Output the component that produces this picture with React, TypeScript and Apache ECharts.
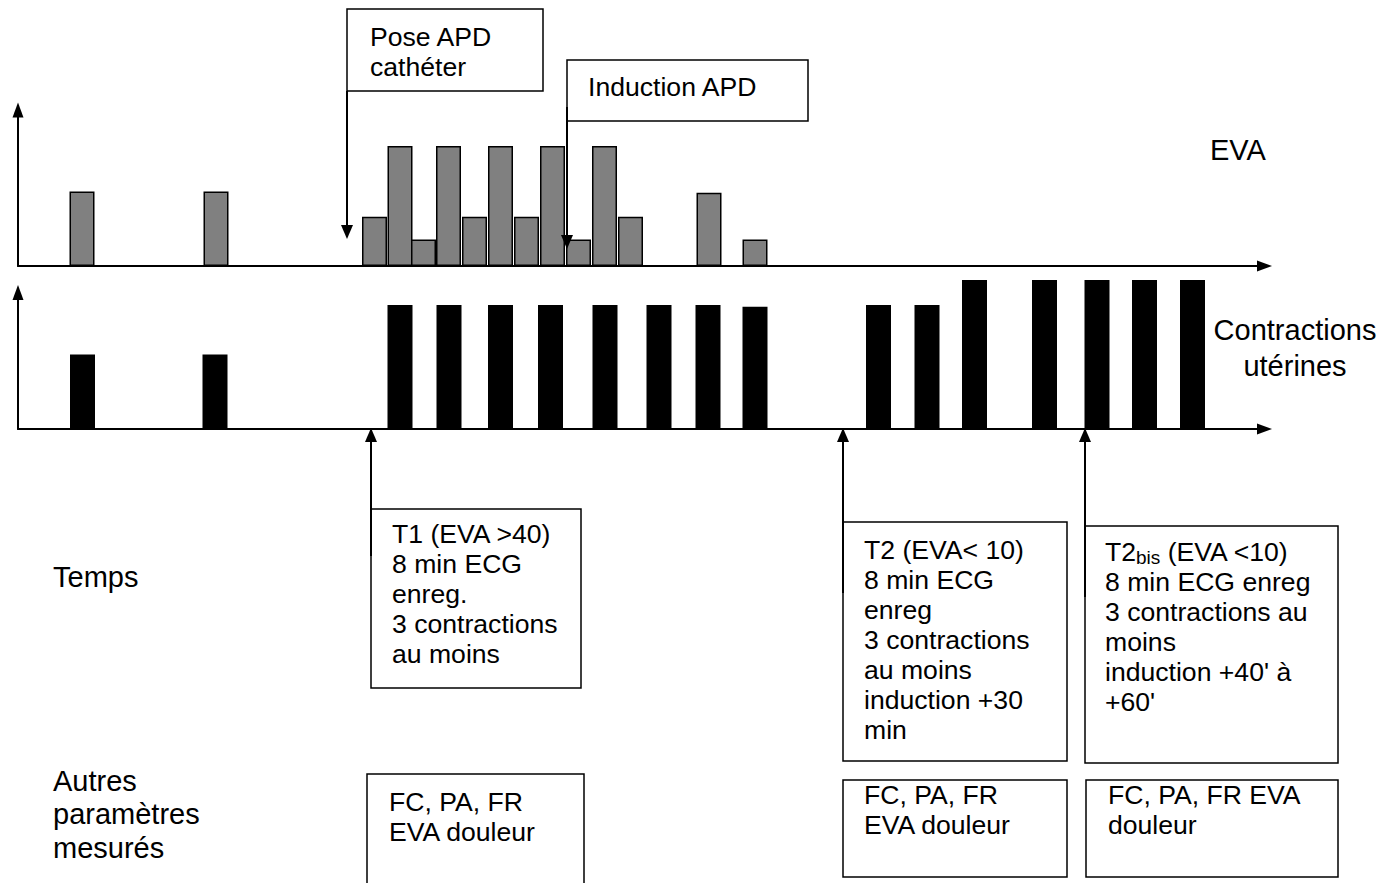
import React, { useEffect, useRef } from "react";
import * as echarts from "echarts";

// Time positions (arbitrary time units) and heights of the EVA (pain score) bars
const evaTimes = [6.4, 19.8, 35.65, 38.2, 40.55, 43.05, 45.65, 48.25, 50.85, 53.45, 56.05, 58.65, 61.25, 69.1, 73.7];
const evaValues = [3.1, 3.1, 2.05, 5, 1.1, 5, 2.05, 5, 2.05, 5, 1.1, 5, 2.05, 3.05, 1.1];

// Time positions and heights of the uterine contraction bars
const contractionTimes = [6.45, 19.7, 38.2, 43.1, 48.25, 53.25, 58.7, 64.1, 69.0, 73.7, 86.05, 90.9, 95.65, 102.65, 107.9, 112.65, 117.45];
const contractionValues = [3, 3, 5, 5, 5, 5, 5, 5, 5, 4.93, 5, 5, 6, 6, 6, 6, 6];

const xMax = 124.65;
const evaMax = 6.5;
const contractionMax = 5.5;

const FONT = '"Liberation Sans", Arial, sans-serif';
const FS = 26.6;
const FS_LABEL = 29;

function txt(text: string, x: number, y: number, lineHeight = 30, align = "left", size = FS) {
  return {
    type: "text",
    z: 20,
    style: {
      text,
      x,
      y,
      fill: "#000",
      fontFamily: FONT,
      fontSize: size,
      lineHeight,
      align,
      verticalAlign: "top",
    },
  };
}

function box(x: number, y: number, w: number, h: number) {
  return {
    type: "rect",
    z: 10,
    shape: { x, y, width: w, height: h },
    style: { fill: "#fff", stroke: "#000", lineWidth: 1.5 },
  };
}

function openBox(x: number, y: number, w: number, bottom: number) {
  return {
    type: "polyline",
    z: 10,
    shape: { points: [[x, bottom], [x, y], [x + w, y], [x + w, bottom]] },
    style: { fill: "none", stroke: "#000", lineWidth: 1.5 },
  };
}

function arrow(x: number, from: number, tip: number) {
  const dir = tip > from ? 1 : -1;
  const headLen = 14;
  const halfW = 6;
  return [
    {
      type: "line",
      z: 12,
      shape: { x1: x, y1: from, x2: x, y2: tip - dir * headLen },
      style: { stroke: "#000", lineWidth: 2 },
    },
    {
      type: "polygon",
      z: 12,
      shape: { points: [[x, tip], [x - halfW, tip - dir * headLen], [x + halfW, tip - dir * headLen]] },
      style: { fill: "#000" },
    },
  ];
}

function axisLine() {
  return {
    show: true,
    onZero: false,
    symbol: ["none", "triangle"],
    symbolSize: [11, 15],
    lineStyle: { color: "#000", width: 2 },
  };
}

export default function App() {
  const ref = useRef<HTMLDivElement>(null);

  useEffect(() => {
    if (!ref.current) return;
    const chart = echarts.init(ref.current, undefined, { renderer: "svg" });

    const hidden = {
      axisTick: { show: false },
      axisLabel: { show: false },
      splitLine: { show: false },
    };

    const option: any = {
      animation: false,
      backgroundColor: "#fff",
      grid: [
        { left: 18, top: 110, width: 1246.5, height: 156 },
        { left: 18, top: 292.5, width: 1246.5, height: 136.5 },
      ],
      xAxis: [
        { type: "value", gridIndex: 0, min: 0, max: xMax, axisLine: axisLine(), ...hidden },
        { type: "value", gridIndex: 1, min: 0, max: xMax, axisLine: axisLine(), ...hidden },
      ],
      yAxis: [
        { type: "value", gridIndex: 0, min: 0, max: evaMax, axisLine: axisLine(), ...hidden },
        { type: "value", gridIndex: 1, min: 0, max: contractionMax, axisLine: axisLine(), ...hidden },
      ],
      series: [
        {
          name: "EVA",
          type: "bar",
          xAxisIndex: 0,
          yAxisIndex: 0,
          barWidth: 25,
          clip: false,
          itemStyle: { color: "#808080", borderColor: "#000", borderWidth: 1.5 },
          data: evaTimes.map((t, i) => [t, evaValues[i]]),
        },
        {
          name: "Contractions utérines",
          type: "bar",
          xAxisIndex: 1,
          yAxisIndex: 1,
          barWidth: 25,
          clip: false,
          itemStyle: { color: "#000" },
          data: contractionTimes.map((t, i) => [t, contractionValues[i]]),
        },
      ],
      graphic: [
        // Pose APD cathéter
        box(347, 9, 196, 82),
        txt("Pose APD\ncathéter", 370, 22),
        ...arrow(347, 91, 239),
        // Induction APD
        box(567, 60, 241, 61),
        txt("Induction APD", 588, 72),
        ...arrow(567, 107, 249),
        // Right labels
        txt("EVA", 1210, 134, 32, "left", FS_LABEL),
        txt("Contractions\nutérines", 1295, 312, 36, "center", FS_LABEL),
        // Left labels
        txt("Temps", 53, 561, 32, "left", FS_LABEL),
        txt("Autres\nparamètres\nmesurés", 53, 764, 33.5, "left", FS_LABEL),
        // T1
        ...arrow(371, 556, 428),
        box(371, 509, 210, 179),
        txt("T1 (EVA >40)\n8 min ECG\nenreg.\n3 contractions\nau moins", 392, 519),
        // T2
        ...arrow(843, 593, 428),
        box(843, 522, 224, 239),
        txt("T2 (EVA< 10)\n8 min ECG\nenreg\n3 contractions\nau moins\ninduction +30\nmin", 864, 535),
        // T2bis
        ...arrow(1085, 597, 428),
        box(1085, 526, 253, 237),
        {
          type: "text",
          z: 20,
          style: {
            text: "{a|T2}{b|bis}{a| (EVA <10)}",
            x: 1105,
            y: 537,
            verticalAlign: "top",
            rich: {
              a: { fontFamily: FONT, fontSize: FS, lineHeight: 30, fill: "#000" },
              b: { fontFamily: FONT, fontSize: 19, lineHeight: 28, fill: "#000", verticalAlign: "bottom" },
            },
          },
        },
        txt("8 min ECG enreg\n3 contractions au\nmoins\ninduction +40' à\n+60'", 1105, 567),
        // FC boxes
        openBox(367, 774, 217, 900),
        txt("FC, PA, FR\nEVA douleur", 389, 787),
        box(843, 780, 224, 97),
        txt("FC, PA, FR\nEVA douleur", 864, 780),
        box(1086, 780, 252, 97),
        txt("FC, PA, FR EVA\ndouleur", 1108, 780),
      ],
    };

    chart.setOption(option);
    return () => chart.dispose();
  }, []);

  return (
    <div
      ref={ref}
      style={{ position: "fixed", left: 0, top: 0, width: 1384, height: 883, background: "#fff" }}
    />
  );
}
